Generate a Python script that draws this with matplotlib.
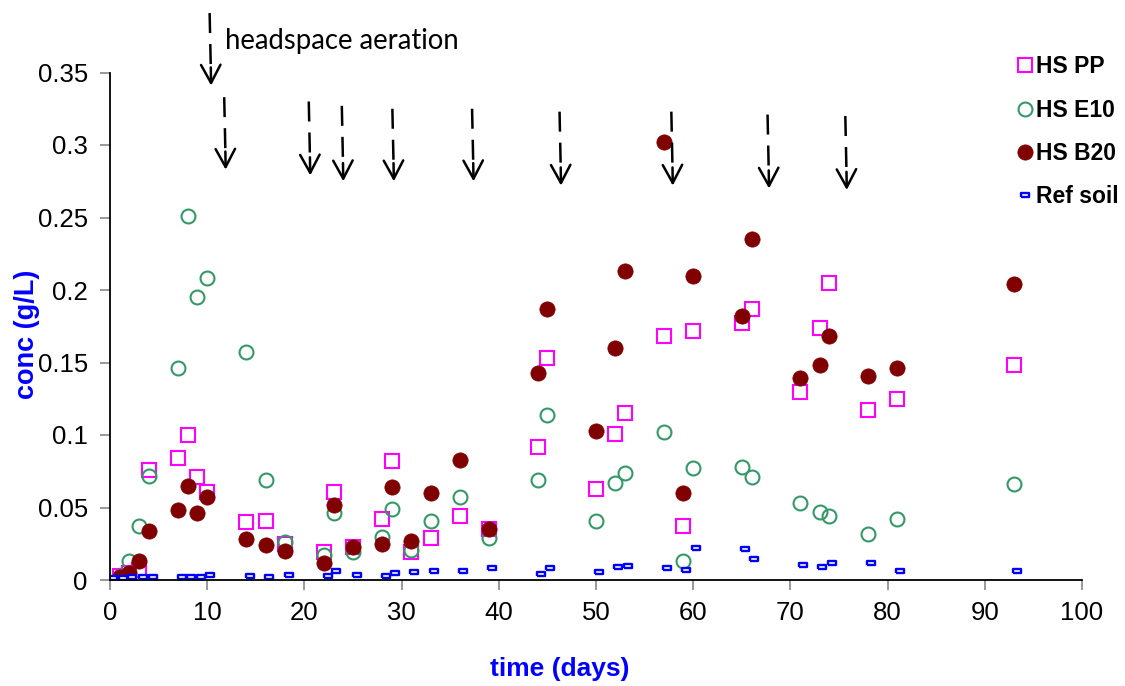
import matplotlib.pyplot as plt

# sampling days shared by the three headspace series
days = [1, 2, 3, 4, 7, 8, 9, 10, 14, 16, 18, 22, 23, 25, 28, 29, 31, 33, 36, 39,
        44, 45, 50, 52, 53, 57, 59, 60, 65, 66, 71, 73, 74, 78, 81, 93]

hs_pp = [0.003, 0.005, 0.007, 0.076, 0.084, 0.100, 0.071, 0.061, 0.040, 0.041,
         0.025, 0.019, 0.061, 0.023, 0.042, 0.082, 0.019, 0.029, 0.044, 0.035,
         0.092, 0.153, 0.063, 0.101, 0.115, 0.168, 0.037, 0.172, 0.177, 0.187,
         0.130, 0.174, 0.205, 0.117, 0.125, 0.148]

hs_e10 = [0.003, 0.013, 0.037, 0.072, 0.146, 0.251, 0.195, 0.208, 0.157, 0.069,
          0.026, 0.017, 0.046, 0.019, 0.030, 0.049, 0.021, 0.041, 0.057, 0.029,
          0.069, 0.114, 0.041, 0.067, 0.074, 0.102, 0.013, 0.077, 0.078, 0.071,
          0.053, 0.047, 0.044, 0.032, 0.042, 0.066]

hs_b20 = [0.002, 0.005, 0.013, 0.034, 0.048, 0.065, 0.046, 0.057, 0.028, 0.024,
          0.020, 0.012, 0.052, 0.023, 0.025, 0.064, 0.027, 0.060, 0.083, 0.035,
          0.143, 0.187, 0.103, 0.160, 0.213, 0.302, 0.060, 0.210, 0.182, 0.235,
          0.139, 0.148, 0.168, 0.141, 0.146, 0.204]

ref_days = [0.3, 1.3, 2.3, 3.4, 4.4, 7.4, 8.3, 9.4, 10.3, 14.4, 16.4, 18.4, 22.4,
            23.3, 25.4, 28.4, 29.3, 31.3, 33.3, 36.3, 39.3, 44.3, 45.3, 50.3, 52.3,
            53.3, 57.3, 59.3, 60.3, 65.3, 66.3, 71.3, 73.3, 74.3, 78.3, 81.3, 93.3]
ref_soil = [0.0016, 0.0016, 0.0023, 0.0018, 0.0018, 0.0023, 0.0023, 0.0023, 0.0032,
            0.0025, 0.0023, 0.0032, 0.0028, 0.0062, 0.0032, 0.0028, 0.0050, 0.0053,
            0.0060, 0.0062, 0.0081, 0.0041, 0.0081, 0.0053, 0.0092, 0.0099, 0.0081,
            0.0071, 0.0219, 0.0212, 0.0143, 0.0101, 0.0090, 0.0115, 0.0115, 0.0062,
            0.0064]

# headspace aeration arrows: day of the tip, value at the top and at the tip
aeration_days = [10.4, 11.9, 20.6, 24.0, 29.2, 37.4, 46.4, 57.9, 67.8, 75.8]
arrow_top = [0.391, 0.333, 0.330, 0.327, 0.325, 0.325, 0.323, 0.323, 0.321, 0.320]
arrow_tip = [0.341, 0.283, 0.279, 0.275, 0.275, 0.275, 0.272, 0.272, 0.270, 0.269]

plt.rcParams["font.family"] = ["Liberation Sans", "DejaVu Sans"]

fig = plt.figure(figsize=(11.25, 6.86), dpi=100)
ax = fig.add_axes([110 / 1125, 1 - 580 / 686, 972 / 1125, 507.5 / 686])

ax.plot(days, hs_pp, linestyle="none", marker="s", markersize=10, markerfacecolor="none",
        markeredgecolor="#FF00FF", markeredgewidth=1.5, label="HS PP")
ax.plot(days, hs_e10, linestyle="none", marker="o", markersize=10, markerfacecolor="none",
        markeredgecolor="#339966", markeredgewidth=1.5, label="HS E10")
ax.plot(days, hs_b20, linestyle="none", marker="o", markersize=11, markerfacecolor="#800000",
        markeredgecolor="#800000", markeredgewidth=0.5, label="HS B20")
rect = [(-1, -0.5), (1, -0.5), (1, 0.5), (-1, 0.5), (-1, -0.5)]
ax.plot(ref_days, ref_soil, linestyle="none", marker=rect, markersize=6,
        markerfacecolor="white", markeredgecolor="#0000FF", markeredgewidth=1.7,
        label="Ref soil")

head = 0.0125
for d, top, tip in zip(aeration_days, arrow_top, arrow_tip):
    ax.plot([d - 0.15, d - 0.03], [top, tip + head], color="black", lw=1.8,
            dashes=(8, 4.4), solid_capstyle="butt", clip_on=False)
    ax.annotate("", xy=(d, tip), xytext=(d - 0.03, tip + head), annotation_clip=False,
                arrowprops=dict(arrowstyle="->,head_length=1.3,head_width=0.7",
                                color="black", lw=1.8, shrinkA=0, shrinkB=0))

ax.text(11.8, 0.372, "headspace aeration", fontsize=19.8, family=["Lato", "DejaVu Sans"],
        ha="left", va="center")

ax.set_xlim(0, 100)
ax.set_ylim(0, 0.35)
ax.set_xticks(range(0, 101, 10))
ax.set_yticks([0, 0.05, 0.1, 0.15, 0.2, 0.25, 0.3, 0.35])
ax.set_yticklabels(["0", "0.05", "0.1", "0.15", "0.2", "0.25", "0.3", "0.35"])
ax.tick_params(axis="both", direction="out", length=7, width=1.2, color="#888888",
               labelsize=18.5, labelcolor="black")
ax.tick_params(axis="y", pad=9)
ax.tick_params(axis="x", pad=8)
for side in ["top", "right"]:
    ax.spines[side].set_visible(False)
for side in ["left", "bottom"]:
    ax.spines[side].set_linewidth(1.3)

ax.set_xlabel("time (days)", fontsize=19, fontweight="bold", color="#0000FF")
ax.xaxis.set_label_coords(0.463, -0.152)
ax.set_ylabel("conc (g/L)", fontsize=19.5, fontweight="bold", color="#0000FF")
ax.yaxis.set_label_coords(-0.072, 0.485)

fig.legend(loc="upper left", bbox_to_anchor=(1004 / 1125, 1 - 44 / 686), frameon=False,
           prop=dict(size=16.5, weight="bold"), handlelength=0.8, handletextpad=0.1,
           labelspacing=0.88, borderpad=0)

fig.savefig("out.png", dpi=100)
